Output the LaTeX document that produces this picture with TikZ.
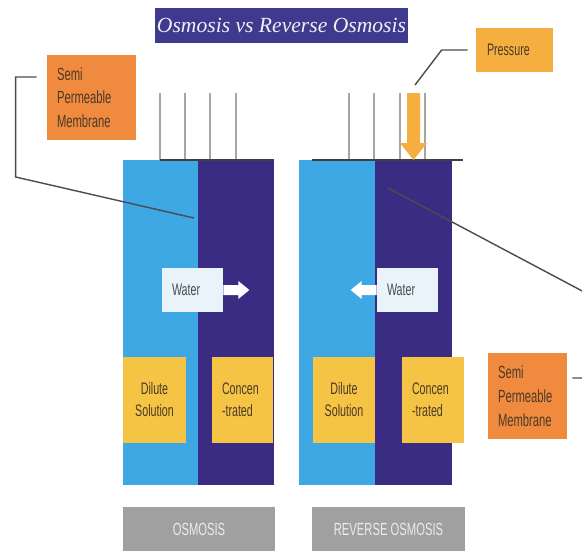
\documentclass[tikz,border=0pt]{standalone}
\usepackage{fontspec}
\setmainfont{Liberation Sans}
\newfontfamily\narrowfont[FakeStretch=0.64]{Liberation Sans}
\newfontfamily\titlefont{Liberation Serif}
\usepackage{xcolor}
\usetikzlibrary{positioning}

\definecolor{dilute}{HTML}{3DA8E4}
\definecolor{concen}{HTML}{3A2C82}
\definecolor{membrane}{HTML}{F08A3E}
\definecolor{solute}{HTML}{F5C445}
\definecolor{press}{HTML}{F5AE40}
\definecolor{waterbox}{HTML}{E8F4F9}
\definecolor{caption}{HTML}{A0A0A0}
\definecolor{heading}{HTML}{3E3A8E}
\definecolor{labeltext}{HTML}{4A3A28}

\tikzset{
    heading box/.style={
        fill=heading,
        minimum width=5.06cm,
        minimum height=0.70cm,
        inner sep=0pt,
        text=heading!8!white,
        font=\titlefont\itshape\fontsize{12.3}{15}\selectfont
    },
    membrane box/.style={
        fill=membrane,
        align=left,
        inner xsep=0.2cm,
        inner ysep=0pt,
        text=labeltext,
        font=\narrowfont\fontsize{10}{13.5}\selectfont
    },
    solution box/.style={
        fill=solute,
        inner xsep=0.2cm,
        inner ysep=0pt,
        minimum height=1.72cm,
        text=labeltext,
        font=\narrowfont\fontsize{9.5}{12.5}\selectfont
    },
    water box/.style={
        fill=waterbox,
        align=left,
        inner xsep=0.2cm,
        inner ysep=0pt,
        text width=0.82cm,
        minimum height=0.88cm,
        text=black!70,
        font=\narrowfont\fontsize{9.5}{11}\selectfont
    },
    caption box/.style={
        fill=caption,
        minimum height=0.88cm,
        inner sep=0pt,
        text=white!92!black,
        font=\narrowfont\fontsize{10}{12}\selectfont
    },
    piston/.style={
        draw=black!35,
        line width=0.8pt
    },
    rim/.style={
        draw=black!75,
        line width=0.8pt
    },
    leader/.style={
        draw=black!70,
        line width=0.8pt
    }
}

\begin{document}
\begin{tikzpicture}[x=0.02cm,y=-0.02cm]
                \fill[white] (0,0) rectangle (582,552);
                \useasboundingbox (0,0) rectangle (582,552);
                \clip (0,0) rectangle (582,552);

                \node[heading box] (title) at (281.5,25.5) {Osmosis vs Reverse Osmosis};

                \fill[dilute] (123,160) rectangle (198,485);
                \fill[concen] (198,160) rectangle (274,485);
                \fill[dilute] (299,160) rectangle (375,485);
                \fill[concen] (375,160) rectangle (452,485);

                \foreach \xpos in {160,185,210,236}
                    \draw[piston] (\xpos,93) -- (\xpos,160);
                \foreach \xpos in {349,374,400,425}
                    \draw[piston] (\xpos,93) -- (\xpos,160);

                \draw[rim] (160,160) -- (274,160);
                \draw[rim] (312,160) -- (463,160);

                \fill[press] (407,93) -- (420,93) -- (420,143) -- (427,143)
                    -- (413.5,160) -- (400,143) -- (407,143) -- cycle;

                \node[water box] (waterL) at (192.5,290) {Water};
                \node[water box] (waterR) at (407.5,290) {Water};

                \fill[white] (waterL.east) ++(0,-5) -- ++(15,0) -- ++(0,-4)
                    -- ++(11,9) -- ++(-11,9) -- ++(0,-4) -- ++(-15,0) -- cycle;
                \fill[white] (waterR.west) ++(0,-5) -- ++(-15,0) -- ++(0,-4)
                    -- ++(-11,9) -- ++(11,9) -- ++(0,-4) -- ++(15,0) -- cycle;

                \node[solution box, align=center, text width=0.86cm] (diluteL) at (154.5,400) {Dilute\\Solution};
                \node[solution box, align=left, text width=0.82cm] (concenL) at (242.5,400) {Concen\\-trated};
                \node[solution box, align=center, text width=0.84cm] (diluteR) at (344,400) {Dilute\\Solution};
                \node[solution box, align=left, text width=0.84cm] (concenR) at (433,400) {Concen\\-trated};

                \node[caption box, minimum width=3.04cm] (osmosis) at (199,529) {OSMOSIS};
                \node[caption box, minimum width=3.06cm] (reverse) at (388.5,529) {REVERSE OSMOSIS};

                \node[membrane box, text width=1.38cm, minimum height=1.70cm] (spmL) at (91.5,97.5) {Semi\\Permeable\\Membrane};
                \node[membrane box, text width=1.18cm, minimum height=1.72cm] (spmR) at (527.5,396) {Semi\\Permeable\\Membrane};
                \node[membrane box, fill=press, inner xsep=0.22cm, text width=1.10cm, minimum height=0.88cm,
                    font=\narrowfont\fontsize{9.5}{11}\selectfont] (press) at (514.5,50) {Pressure};

                \coordinate (leftTip) at (194,218);
                \coordinate (pressTip) at (415,85);
                \coordinate (rightTip) at (388,188);

                \draw[leader] ([shift={(-10,-20.5)}]spmL.west) -- ++(-21,0) -- ++(0,100) -- (leftTip);
                \draw[leader] ([shift={(-8,0)}]press.west) -- ++(-26,0) -- (pressTip);
                \draw[leader] (rightTip) -- (586,293) -- (586,378) -- ([shift={(5,-18)}]spmR.east);
            \end{tikzpicture}
\end{document}
